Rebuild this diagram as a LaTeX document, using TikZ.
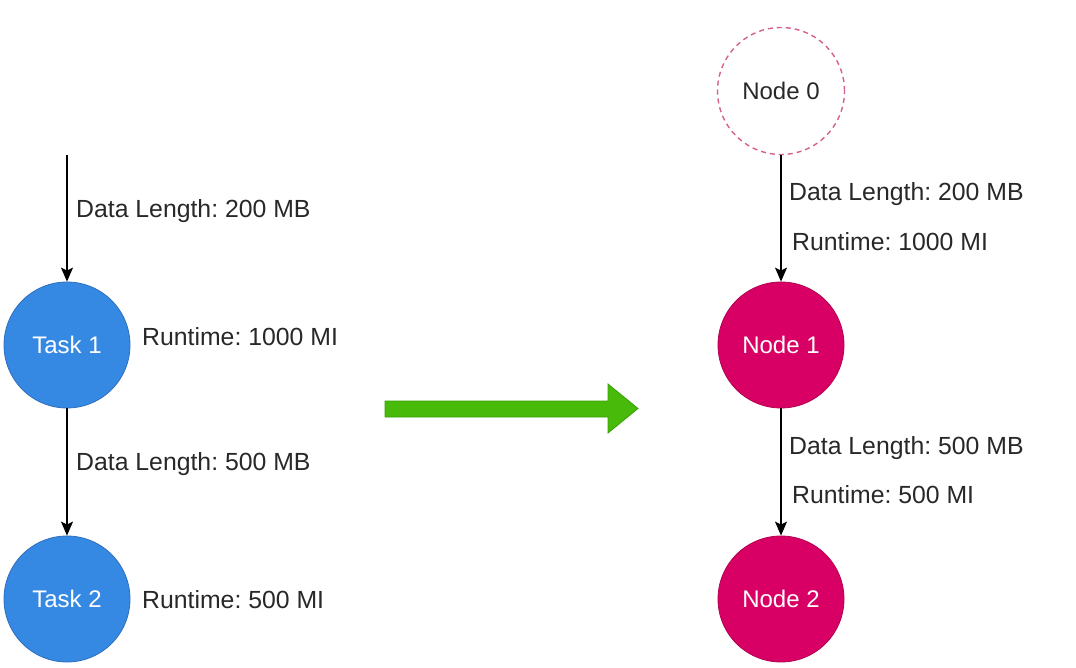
\documentclass[tikz,border=0pt]{standalone}
\usepackage{fontspec}
\setmainfont{Liberation Sans}
\usetikzlibrary{arrows.meta}
\definecolor{taskblue}{RGB}{54,137,227}
\definecolor{taskblueline}{RGB}{45,110,190}
\definecolor{nodepink}{RGB}{216,0,100}
\definecolor{nodepinkline}{RGB}{180,0,80}
\definecolor{dashpink}{RGB}{214,95,145}
\definecolor{arrowgreen}{RGB}{72,186,10}
\definecolor{arrowgreenline}{RGB}{55,160,5}
\definecolor{labelgray}{RGB}{40,40,40}
\tikzset{
  taskcircle/.style={circle, minimum size=126pt, inner sep=0pt, fill=taskblue, draw=taskblueline, line width=0.8pt, text=white, font=\fontsize{24}{28}\selectfont},
  nodecircle/.style={circle, minimum size=126pt, inner sep=0pt, fill=nodepink, draw=nodepinkline, line width=0.8pt, text=white, font=\fontsize{24}{28}\selectfont},
  ghostcircle/.style={circle, minimum size=127pt, inner sep=0pt, draw=dashpink, line width=1.4pt, dash pattern=on 5pt off 4pt, text=labelgray, font=\fontsize{24}{28}\selectfont},
  lbl/.style={anchor=west, inner sep=0pt, text=labelgray, font=\fontsize{24.8}{28}\selectfont},
  conn/.style={line width=1.2pt, -{Stealth[length=14pt,width=12pt,inset=3pt]}},
}
\begin{document}
\frenchspacing
\begin{tikzpicture}[x=1pt,y=-1pt]
\useasboundingbox (0,0) rectangle (1076,668);
% left graph
\coordinate (start) at (67,155);
\node[taskcircle] (t1) at (67,345) {Task 1};
\node[taskcircle] (t2) at (67,599) {Task 2};
\draw[conn] (start) -- (t1.north);
\draw[conn] (t1.south) -- (t2.north);
\node[lbl] (l1) at (76,211) {Data Length: 200 MB};
\node[lbl] (l2) at (142,337) {Runtime: 1000 MI};
\node[lbl] (l3) at (76,464) {Data Length: 500 MB};
\node[lbl] (l4) at (142,600) {Runtime: 500 MI};
% big arrow
\path[fill=arrowgreen, draw=arrowgreenline, line width=0.8pt]
  (385,401) -- (608,401) -- (608,384) -- (638,408.5) -- (608,433) -- (608,417) -- (385,417) -- cycle;
% right graph
\node[ghostcircle] (n0) at (781,91) {Node 0};
\node[nodecircle] (n1) at (781,345) {Node 1};
\node[nodecircle] (n2) at (781,599) {Node 2};
\draw[conn] (n0.south) -- (n1.north);
\draw[conn] (n1.south) -- (n2.north);
\node[lbl] (r1) at (789,194) {Data Length: 200 MB};
\node[lbl] (r2) at (792,242) {Runtime: 1000 MI};
\node[lbl] (r3) at (789,448) {Data Length: 500 MB};
\node[lbl] (r4) at (792,495) {Runtime: 500 MI};
\end{tikzpicture}
\end{document}
